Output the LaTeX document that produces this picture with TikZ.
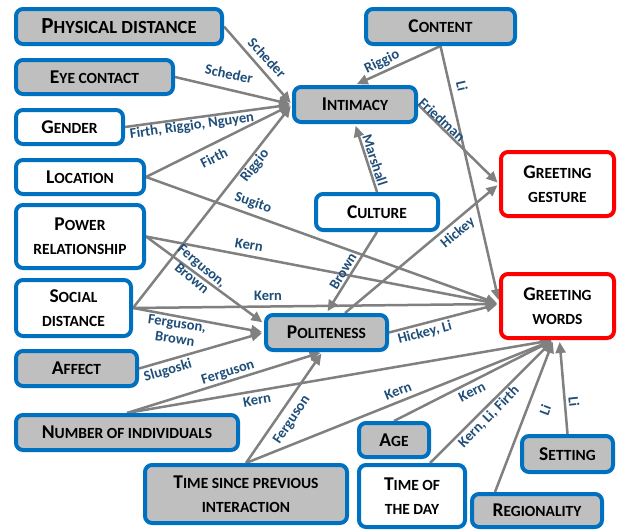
\documentclass[tikz,border=0pt]{standalone}
\usepackage{fontspec}
\setmainfont{Carlito}
\usetikzlibrary{arrows.meta,backgrounds}
\definecolor{bblue}{HTML}{0070C0}
\definecolor{rred}{HTML}{FF0000}
\definecolor{gfill}{HTML}{BFBFBF}
\definecolor{agray}{HTML}{808080}
\definecolor{ltext}{HTML}{1F4E79}
\newcommand\SCb[2]{{\fontsize{19.5}{24}\selectfont #1}{\fontsize{15.5}{24}\selectfont\MakeUppercase{#2}}}
\newcommand\SCs[1]{{\fontsize{15.5}{24}\selectfont\MakeUppercase{#1}}}
\newcommand\SCp[2]{{\fontsize{23}{24}\selectfont #1}{\fontsize{18.5}{24}\selectfont\MakeUppercase{#2}}}
\tikzset{
  box/.style={draw=bblue, line width=4pt, rounded corners=7pt, inner sep=0pt, align=center,
    font=\bfseries\fontsize{15.5}{24}\selectfont},
  gbox/.style={box, fill=gfill},
  wbox/.style={box, fill=white},
  rbox/.style={box, draw=rred, fill=white},
  arr/.style={draw=agray, line width=2.5pt, shorten >=2pt, -{Triangle[length=11pt,width=10pt]}},
  lab/.style={text=ltext, font=\bfseries\fontsize{14.5}{16}\selectfont, inner sep=0pt, align=center},
}
\begin{document}
\begin{tikzpicture}[x=1pt,y=-1pt]
\useasboundingbox (0,0) rectangle (619,530);
% nodes
\node[gbox, minimum width=206pt, minimum height=35pt] (phys) at (119,26.5) {\SCp{P}{hysical distance}};
\node[gbox, minimum width=157pt, minimum height=34pt] (eye) at (94.5,77) {\SCb{E}{ye contact}};
\node[wbox, minimum width=107pt, minimum height=34pt] (gender) at (69.5,127) {\SCb{G}{ender}};
\node[wbox, minimum width=128pt, minimum height=34pt] (loc) at (80,177) {\SCb{L}{ocation}};
\node[wbox, minimum width=128pt, minimum height=63pt] (power) at (80,236.5) {\SCb{P}{ower}\\\SCs{relationship}};
\node[wbox, minimum width=115pt, minimum height=56pt] (social) at (73.5,308) {\SCb{S}{ocial}\\\SCs{distance}};
\node[gbox, minimum width=121pt, minimum height=35pt] (affect) at (76.5,368.5) {\SCb{A}{ffect}};
\node[gbox, minimum width=222pt, minimum height=35pt] (number) at (127,432.5) {\SCb{N}{umber of individuals}};
\node[gbox, minimum width=202pt, minimum height=58pt] (time) at (246,494) {\SCb{T}{ime since previous}\\\SCs{interaction}};
\node[gbox, minimum width=70pt, minimum height=34pt] (age) at (394,440) {\SCb{A}{ge}};
\node[wbox, minimum width=106pt, minimum height=62pt] (tod) at (412,496) {\SCb{T}{ime of}\\\SCs{the day}};
\node[gbox, minimum width=130pt, minimum height=33pt] (reg) at (537,510.5) {\SCb{R}{egionality}};
\node[gbox, minimum width=91pt, minimum height=36pt] (setting) at (567.5,454) {\SCb{S}{etting}};
\node[gbox, minimum width=121pt, minimum height=35pt] (polit) at (326.5,332.5) {\SCb{P}{oliteness}};
\node[wbox, minimum width=122pt, minimum height=36pt] (culture) at (377,212) {\SCb{C}{ulture}};
\node[gbox, minimum width=122pt, minimum height=35pt] (int) at (355,104.5) {\SCb{I}{ntimacy}};
\node[gbox, minimum width=149pt, minimum height=35pt] (cont) at (440.5,26.5) {\SCb{C}{ontent}};
\node[rbox, minimum width=113pt, minimum height=64pt] (gest) at (557.5,184) {\SCb{G}{reeting}\\\SCs{gesture}};
\node[rbox, minimum width=113pt, minimum height=64pt] (words) at (557.5,306) {\SCb{G}{reeting}\\\SCs{words}};
% connectors
\begin{pgfonlayer}{background}
\draw[arr] (phys.east) -- (int.west);
\draw[arr] (eye.east) -- (int.west);
\draw[arr] (gender.east) -- (int.west);
\draw[arr] (loc.east) -- (int.west);
\draw[arr] (social.east) -- (int.west);
\draw[arr] (cont.south) -- (int.north);
\draw[arr] (cont.south) -- ([yshift=4pt]words.west);
\draw[arr] (int.east) -- (gest.west);
\draw[arr] (culture.north) -- (int.south);
\draw[arr] (loc.east) -- ([yshift=2pt]words.west);
\draw[arr] (power.east) -- ([yshift=2pt]words.west);
\draw[arr] (power.east) -- ([yshift=9pt]polit.west);
\draw[arr] (social.east) -- ([yshift=2pt]words.west);
\draw[arr] (social.east) -- (polit.west);
\draw[arr] (affect.east) -- (polit.west);
\draw[arr] (culture.south) -- (polit.north);
\draw[arr] ([xshift=18.5pt]polit.north) -- (gest.west);
\draw[arr] (polit.east) -- ([yshift=2pt]words.west);
\draw[arr] (number.north) -- ([xshift=-4pt]polit.south);
\draw[arr] (time.north) -- ([xshift=-4pt]polit.south);
\draw[arr] (number.north) -- ([xshift=-4pt]words.south);
\draw[arr] (time.north) -- ([xshift=-4pt]words.south);
\draw[arr] (age.north) -- ([xshift=-4pt]words.south);
\draw[arr] ([xshift=18pt]tod.north) -- ([xshift=-4pt]words.south);
\draw[arr] ([xshift=-42pt]reg.north) -- ([xshift=-4pt]words.south);
\draw[arr] (setting.north) -- ([xshift=2pt]words.south);
\end{pgfonlayer}
% labels
\node[lab, rotate=-47] (l1) at (267,58) {Scheder};
\node[lab, rotate=-12] (l2) at (229,74) {Scheder};
\node[lab, rotate=8] (l3) at (192,126) {Firth, Riggio, Nguyen};
\node[lab, rotate=27] (l4) at (214,158) {Firth};
\node[lab, rotate=52] (l5) at (255,166) {Riggio};
\node[lab, rotate=26] (l6) at (382,62) {Riggio};
\node[lab, rotate=-77] (l7) at (462,86) {Li};
\node[lab, rotate=-43] (l8) at (442,120) {Friedman};
\node[lab, rotate=-72] (l9) at (375,160) {Marshall};
\node[lab, rotate=-19] (l10) at (253,203) {Sugito};
\node[lab, rotate=-10] (l11) at (249,245) {Kern};
\node[lab, rotate=-40] (l12) at (197,272) {Ferguson,\\Brown};
\node[lab, rotate=0.5] (l13) at (268,296) {Kern};
\node[lab, rotate=-8] (l14) at (176,331) {Ferguson,\\Brown};
\node[lab, rotate=16] (l15) at (168,371) {Slugoski};
\node[lab, rotate=18] (l16) at (228,373) {Ferguson};
\node[lab, rotate=10] (l17) at (257,400) {Kern};
\node[lab, rotate=56] (l18) at (292,420) {Ferguson};
\node[lab, rotate=22] (l19) at (398,391) {Kern};
\node[lab, rotate=27] (l20) at (472,392) {Kern};
\node[lab, rotate=45.5] (l21) at (489,417) {Kern, Li, Firth};
\node[lab, rotate=69] (l22) at (545,410) {Li};
\node[lab, rotate=-84] (l23) at (574,402) {Li};
\node[lab, rotate=15] (l24) at (425,333) {Hickey, Li};
\node[lab, rotate=40] (l25) at (458,233) {Hickey};
\node[lab, rotate=59] (l26) at (343,271) {Brown};
\end{tikzpicture}
\end{document}
